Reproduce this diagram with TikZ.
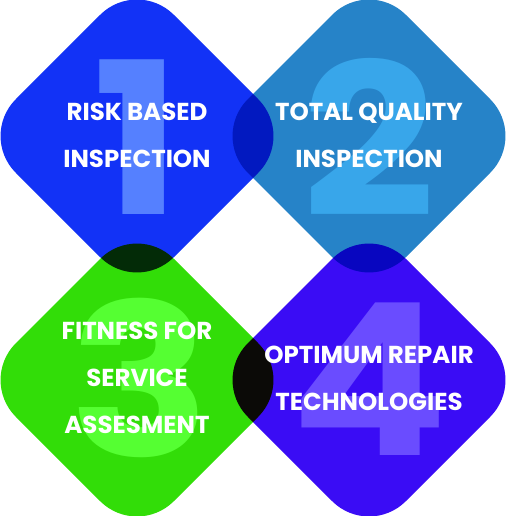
\documentclass[tikz,border=0pt]{standalone}
\usepackage{fontspec}
\setmainfont{Poppins}
\definecolor{diaone}{RGB}{18,50,246}
\definecolor{diatwo}{RGB}{38,131,200}
\definecolor{diathree}{RGB}{50,221,8}
\definecolor{diafour}{RGB}{58,12,245}
\definecolor{numone}{RGB}{85,128,255}
\definecolor{numtwo}{RGB}{56,166,234}
\definecolor{numthree}{RGB}{85,255,50}
\definecolor{numfour}{RGB}{106,76,255}
\usepackage{tikz}

\begin{document}
\begin{tikzpicture}[x=1pt,y=-1pt]
            \useasboundingbox (0,0) rectangle (506,516);

            % Rombos
            \begin{scope}[blend group=multiply]
                \foreach \cx/\cy/\col in {137/136/diaone, 369/136/diatwo, 137/380/diathree, 369/380/diafour} {
                    \fill[\col, rounded corners=52pt] (\cx-79,\cy-79) -- (\cx,\cy-158) -- (\cx+158,\cy) -- (\cx,\cy+158) -- (\cx-158,\cy) -- cycle;
                }
            \end{scope}

            % Numeros
            \foreach \n/\cx/\cy/\col in {1/137/137/numone, 2/369/137/numtwo, 3/140/378/numthree, 4/369/379/numfour} {
                \node[text=\col, inner sep=0pt, xscale=1.1, transform shape, font=\bfseries\fontsize{212}{212}\selectfont] (num\n) at (\cx,\cy) {\n};
            }

            % Textos
            \node[white, align=center, font=\bfseries\fontsize{24.5}{47}\selectfont] (risk) at (137,135) {RISK BASED\\INSPECTION};
            \node[white, align=center, font=\bfseries\fontsize{24.5}{47}\selectfont] (quality) at (369,135) {TOTAL QUALITY\\INSPECTION};
            \node[white, align=center, font=\bfseries\fontsize{24.5}{47}\selectfont] (fitness) at (137,378) {FITNESS FOR\\SERVICE\\ASSESMENT};
            \node[white, align=center, font=\bfseries\fontsize{24.5}{47}\selectfont] (repair) at (369,378) {OPTIMUM REPAIR\\TECHNOLOGIES};
        \end{tikzpicture}
\end{document}
